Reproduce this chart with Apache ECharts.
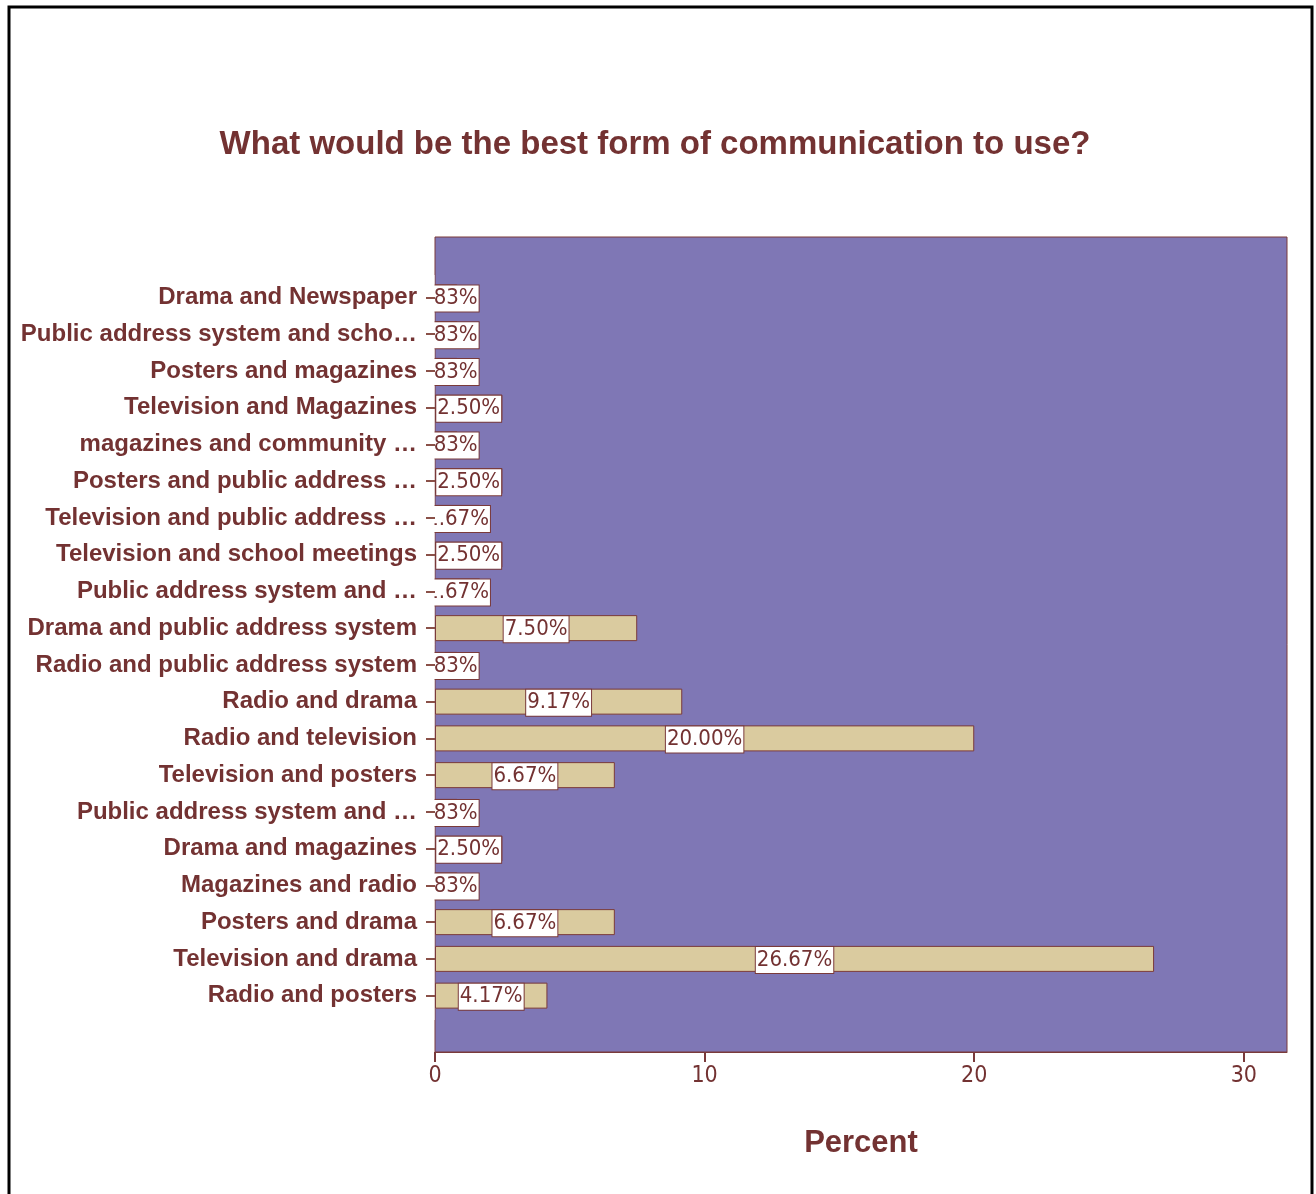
<!DOCTYPE html>
<html>
<head>
<meta charset="utf-8">
<script src="https://cdn.jsdelivr.net/npm/echarts@6/dist/echarts.min.js"></script>
<style>
html,body{margin:0;padding:0;background:#fff;}
#chart{width:1316px;height:1194px;}
</style>
</head>
<body>
<div id="chart"></div>
<script>
// Categories, top to bottom
const categories = [
  "Drama and Newspaper",
  "Public address system and scho…",
  "Posters and magazines",
  "Television and Magazines",
  "magazines and community …",
  "Posters and public address …",
  "Television and public address …",
  "Television and school meetings",
  "Public address system and …",
  "Drama and public address system",
  "Radio and public address system",
  "Radio and drama",
  "Radio and television",
  "Television and posters",
  "Public address system and …",
  "Drama and magazines",
  "Magazines and radio",
  "Posters and drama",
  "Television and drama",
  "Radio and posters"
];
// Percent values
const percents = [
  0.83, 0.83, 0.83, 2.50, 0.83, 2.50, 1.67, 2.50, 1.67, 7.50,
  0.83, 9.17, 20.00, 6.67, 0.83, 2.50, 0.83, 6.67, 26.67, 4.17
];
const xTicks = [0, 10, 20, 30];
const titleText = "What would be the best form of communication to use?";
const axisName = "Percent";

const maroon = '#733232';
const narrow = "'Liberation Sans Narrow', 'Arial Narrow', 'DejaVu Sans Condensed', sans-serif";
const boldFont = "'Liberation Sans', Arial, sans-serif";

const chart = echarts.init(document.getElementById('chart'));
chart.setOption({
  animation: false,
  backgroundColor: '#ffffff',
  title: {
    text: titleText,
    left: 650, textAlign: 'center', top: 123,
    textStyle: { color: maroon, fontFamily: boldFont, fontWeight: 'bold', fontSize: 33 }
  },
  grid: [
    { left: 435, top: 237, width: 852, height: 815, show: true,
      backgroundColor: '#7F77B5', borderColor: '#7a3a3a', borderWidth: 1 },
    { left: 435, top: 279, width: 852, height: 735 }
  ],
  xAxis: [
    { gridIndex: 0, type: 'value', min: 0, max: 31.6, interval: 10,
      axisLine: { show: true, lineStyle: { color: '#7a3a3a' } },
      axisTick: { show: true, length: 10, lineStyle: { color: '#7a3a3a', width: 2 },
        customValues: xTicks },
      axisLabel: { color: maroon, fontFamily: narrow, fontSize: 23, margin: 13,
        customValues: xTicks },
      splitLine: { show: false },
      name: axisName, nameLocation: 'middle', nameGap: 76,
      nameTextStyle: { color: maroon, fontFamily: boldFont, fontWeight: 'bold', fontSize: 31 } },
    { gridIndex: 1, type: 'value', min: 0, max: 31.6, show: false }
  ],
  yAxis: [
    { gridIndex: 0, type: 'value', show: false },
    { gridIndex: 1, type: 'category', data: categories, inverse: true, z: 60,
      axisLine: { show: false },
      axisTick: { show: true, length: 9, alignWithLabel: true, lineStyle: { color: '#8a5048', width: 2 } },
      axisLabel: { color: maroon, fontFamily: boldFont, fontWeight: 'bold', fontSize: 24, margin: 18, interval: 0 } }
  ],
  graphic: {
    elements: [
      { type: 'rect', z: 50, shape: { x: 400, y: 275, width: 34.5, height: 745 },
        style: { fill: '#ffffff' }, silent: true },
      { type: 'rect', z: 0, shape: { x: 9, y: 7, width: 1303, height: 1210 },
        style: { fill: 'none', stroke: '#000', lineWidth: 3 }, silent: true }
    ]
  },
  series: [{
    type: 'bar', xAxisIndex: 1, yAxisIndex: 1,
    data: percents, barWidth: 26,
    itemStyle: { color: '#DACB9F', borderColor: '#7a3a3a', borderWidth: 1 },
    label: {
      show: true, position: 'inside', offset: [0, 1],
      formatter: p => p.value.toFixed(2) + '%',
      color: maroon, fontFamily: narrow, fontSize: 22,
      backgroundColor: '#ffffff', borderColor: '#7a3a3a', borderWidth: 1,
      padding: [3, 1, 1, 1]
    }
  }]
});
</script>
</body>
</html>
